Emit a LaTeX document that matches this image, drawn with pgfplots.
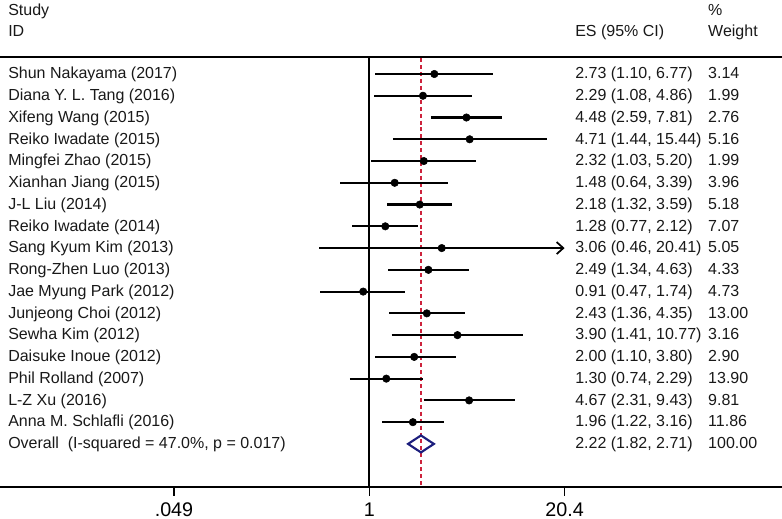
\documentclass[border=0pt]{standalone}
\usepackage{fontspec}
\setmainfont{Liberation Sans}
\usepackage{pgfplots}
\pgfplotsset{compat=1.18}
\usetikzlibrary{arrows.meta}
\definecolor{navy}{RGB}{28,30,125}
\definecolor{dashred}{RGB}{205,35,60}
\tikzset{lt/.style={anchor=base west, yshift=-0.36em, inner sep=0pt, font=\fontsize{12}{14}\selectfont, text=black!90}}
\newcommand{\studyrow}[4]{%
 \node[lt] at (axis cs:0.003778,#1) {#2};
 \node[lt] at (axis cs:23.95,#1) {#3};
 \node[lt] at (axis cs:186.6,#1) {#4};}
\begin{document}
\begin{tikzpicture}
\begin{axis}[
 scale only axis, width=586.5pt, height=389.25pt,
 xmode=log, xmin=0.003339, xmax=585.3,
 y dir=reverse, ymin=-2.401, ymax=21.45,
 hide axis, clip=false,
]
\coordinate (bl) at (rel axis cs:0,0);
\coordinate (tr) at (rel axis cs:1,1);
% frame lines
\draw[line width=1.6pt] (axis cs:0.003339,0.233) -- (axis cs:585.3,0.233);
\draw[line width=1.6pt] (axis cs:0.003339,19.98) -- (axis cs:585.3,19.98);
\draw[line width=1.6pt] (axis cs:1,0.233) -- (axis cs:1,19.98);
\draw[dashred, line width=0.9pt, dash pattern=on 3pt off 2.2pt] (axis cs:2.22,0.27) -- (axis cs:2.22,19.98);
\pgfplotsinvokeforeach{0.049,1,20.4}{\draw[line width=1.2pt] (axis cs:#1,19.98) -- (axis cs:#1,20.4);}
% CIs
\pgfplotsset{ci/.style={black, line width=1.6pt, no marks}}
\addplot[ci] coordinates {(1.10,1) (6.77,1)};
\addplot[ci] coordinates {(1.08,2) (4.86,2)};
\addplot[ci] coordinates {(2.59,3) (7.81,3)};
\addplot[ci] coordinates {(1.44,4) (15.44,4)};
\addplot[ci] coordinates {(1.03,5) (5.20,5)};
\addplot[ci] coordinates {(0.64,6) (3.39,6)};
\addplot[ci] coordinates {(1.32,7) (3.59,7)};
\addplot[ci] coordinates {(0.77,8) (2.12,8)};
\addplot[ci, -{Straight Barb[length=5pt,width=9pt,line width=1.3pt]}] coordinates {(0.46,9) (20.4,9)};
\addplot[ci] coordinates {(1.34,10) (4.63,10)};
\addplot[ci] coordinates {(0.47,11) (1.74,11)};
\addplot[ci] coordinates {(1.36,12) (4.35,12)};
\addplot[ci] coordinates {(1.41,13) (10.77,13)};
\addplot[ci] coordinates {(1.10,14) (3.80,14)};
\addplot[ci] coordinates {(0.74,15) (2.29,15)};
\addplot[ci] coordinates {(2.31,16) (9.43,16)};
\addplot[ci] coordinates {(1.22,17) (3.16,17)};
% point estimates
\addplot[only marks, mark=*, mark size=2.8pt, black] coordinates {
(2.73,1) (2.29,2) (4.48,3) (4.71,4) (2.32,5) (1.48,6) (2.18,7) (1.28,8) (3.06,9)
(2.49,10) (0.91,11) (2.43,12) (3.90,13) (2.00,14) (1.30,15) (4.67,16) (1.96,17)};
% overall diamond
\addplot[navy, line width=1.6pt, no marks] coordinates {(1.82,18) (2.22,17.61) (2.71,18) (2.22,18.39) (1.82,18)} -- cycle;
% texts
\node[lt] at (axis cs:0.003778,-1.895) {Study};
\node[lt] at (axis cs:0.003778,-0.93) {ID};
\node[lt] at (axis cs:23.95,-0.93) {ES (95\% CI)};
\node[lt] at (axis cs:186.6,-1.895) {\%};
\node[lt] at (axis cs:186.6,-0.93) {Weight};
\studyrow{1}{Shun Nakayama (2017)}{2.73 (1.10, 6.77)}{3.14}
\studyrow{2}{Diana Y. L. Tang (2016)}{2.29 (1.08, 4.86)}{1.99}
\studyrow{3}{Xifeng Wang (2015)}{4.48 (2.59, 7.81)}{2.76}
\studyrow{4}{Reiko Iwadate (2015)}{4.71 (1.44, 15.44)}{5.16}
\studyrow{5}{Mingfei Zhao (2015)}{2.32 (1.03, 5.20)}{1.99}
\studyrow{6}{Xianhan Jiang (2015)}{1.48 (0.64, 3.39)}{3.96}
\studyrow{7}{J-L Liu (2014)}{2.18 (1.32, 3.59)}{5.18}
\studyrow{8}{Reiko Iwadate (2014)}{1.28 (0.77, 2.12)}{7.07}
\studyrow{9}{Sang Kyum Kim (2013)}{3.06 (0.46, 20.41)}{5.05}
\studyrow{10}{Rong-Zhen Luo (2013)}{2.49 (1.34, 4.63)}{4.33}
\studyrow{11}{Jae Myung Park (2012)}{0.91 (0.47, 1.74)}{4.73}
\studyrow{12}{Junjeong Choi (2012)}{2.43 (1.36, 4.35)}{13.00}
\studyrow{13}{Sewha Kim (2012)}{3.90 (1.41, 10.77)}{3.16}
\studyrow{14}{Daisuke Inoue (2012)}{2.00 (1.10, 3.80)}{2.90}
\studyrow{15}{Phil Rolland (2007)}{1.30 (0.74, 2.29)}{13.90}
\studyrow{16}{L-Z Xu (2016)}{4.67 (2.31, 9.43)}{9.81}
\studyrow{17}{Anna M. Schlafli (2016)}{1.96 (1.22, 3.16)}{11.86}
\studyrow{18}{Overall\ \ (I-squared = 47.0\%, p = 0.017)}{2.22 (1.82, 2.71)}{100.00}
% tick labels
\node[anchor=base, inner sep=0pt, font=\fontsize{14.8}{16}\selectfont] at (axis cs:0.049,21.33) {.049};
\node[anchor=base, inner sep=0pt, font=\fontsize{14.8}{16}\selectfont] at (axis cs:1,21.33) {1};
\node[anchor=base, inner sep=0pt, font=\fontsize{14.8}{16}\selectfont] at (axis cs:20.4,21.33) {20.4};
\end{axis}
\pgfresetboundingbox
\path (bl) rectangle (tr);
\end{tikzpicture}
\end{document}
